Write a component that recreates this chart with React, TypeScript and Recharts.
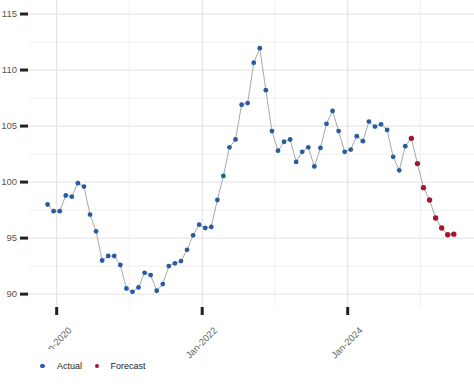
import { ComposedChart, Line, XAxis, YAxis, ReferenceLine } from 'recharts'

// monthly index, first actual observation is Nov-2019
const actualStartYear = 2019
const actualStartMonth = 11

const actualValues = [
  98.0, 97.4, 97.4, 98.8, 98.7, 99.9, 99.6, 97.1, 95.6, 93.0,
  93.4, 93.4, 92.6, 90.5, 90.2, 90.6, 91.9, 91.7, 90.3, 90.9,
  92.5, 92.75, 92.95, 93.95, 95.25, 96.2, 95.9, 96.0, 98.4, 100.55,
  103.1, 103.8, 106.9, 107.05, 110.65, 111.95, 108.2, 104.55, 102.8, 103.6,
  103.8, 101.8, 102.7, 103.1, 101.4, 103.05, 105.2, 106.35, 104.55, 102.7,
  102.9, 104.1, 103.65, 105.4, 104.95, 105.15, 104.65, 102.25, 101.05, 103.2,
]

const forecastValues = [103.9, 101.65, 99.5, 98.4, 96.8, 95.9, 95.3, 95.35]

const xTicks = [0, 24, 48] // months since Jan-2020
const xMinor = [12, 36, 60]
const yTicks = [90, 95, 100, 105, 110, 115]
const yMinor = [92.5, 97.5, 102.5, 107.5, 112.5]

const BLUE = '#285c9f'
const RED = '#a3172d'

const startOffset = (actualStartYear - 2020) * 12 + (actualStartMonth - 1)

const data = [
  ...actualValues.map((v, i) => ({ t: startOffset + i + 0.5, value: v, kind: 'actual' })),
  ...forecastValues.map((v, i) => ({
    t: startOffset + actualValues.length + i + 0.5,
    value: v,
    kind: 'forecast',
  })),
]

const font = '"Liberation Sans", Arial, sans-serif'

const XTick = ({ x, y, payload }: any) => {
  const ax = x + 15.5
  const ay = y + 14
  return (
    <text
      x={ax}
      y={ay}
      textAnchor="end"
      fontSize={9.5}
      fontFamily={font}
      fill="#666"
      transform={`rotate(-45 ${ax} ${ay})`}
    >
      {`Jan-${2020 + payload.value / 12}`}
    </text>
  )
}

const Dot = (props: any) => {
  const { cx, cy, payload, index } = props
  if (cx == null || cy == null) return <g key={index} />
  return (
    <circle
      key={index}
      cx={cx}
      cy={cy}
      r={payload.kind === 'forecast' ? 2.7 : 2.4}
      fill={payload.kind === 'forecast' ? RED : BLUE}
    />
  )
}

export default function App() {
  return (
    <div style={{ position: 'absolute', left: 0, top: 0, width: 474, height: 390, background: '#fff' }}>
      <ComposedChart width={474} height={390} data={data} margin={{ top: 0, right: 0, bottom: 0, left: 0 }}>
        {yMinor.map((v) => (
          <ReferenceLine key={`y${v}`} y={v} stroke="#f0f0f0" />
        ))}
        {yTicks.map((v) => (
          <ReferenceLine key={`ym${v}`} y={v} stroke="#e0e0e0" />
        ))}
        {xMinor.map((v) => (
          <ReferenceLine key={`x${v}`} x={v} stroke="#f0f0f0" ifOverflow="hidden" />
        ))}
        {xTicks.map((v) => (
          <ReferenceLine key={`xm${v}`} x={v} stroke="#e0e0e0" ifOverflow="hidden" />
        ))}
        <XAxis
          type="number"
          dataKey="t"
          domain={[-4.73, 68.83]}
          allowDataOverflow
          ticks={xTicks}
          height={83}
          axisLine={false}
          tickSize={8}
          tickLine={{ stroke: '#222', strokeWidth: 3 }}
          tick={<XTick />}
        />
        <YAxis
          type="number"
          domain={[88.85, 116.25]}
          allowDataOverflow
          ticks={yTicks}
          width={28}
          axisLine={false}
          tickSize={8}
          tickMargin={3}
          tickLine={{ stroke: '#222', strokeWidth: 3 }}
          tick={{ fontSize: 9.5, fill: '#555', fontFamily: font }}
        />
        <Line
          type="linear"
          dataKey="value"
          stroke="#a8a8a8"
          strokeWidth={1}
          dot={Dot}
          activeDot={false}
          isAnimationActive={false}
        />
      </ComposedChart>
      <div
        style={{
          position: 'absolute',
          left: 30,
          top: 349,
          width: 130,
          height: 34,
          background: '#fff',
          fontFamily: font,
          fontSize: 9,
          color: '#222',
        }}
      >
        <div style={{ position: 'absolute', left: 10, top: 14.5, width: 4.5, height: 4.5, borderRadius: '50%', background: BLUE }} />
        <div style={{ position: 'absolute', left: 27, top: 11, lineHeight: '12px' }}>Actual</div>
        <div style={{ position: 'absolute', left: 64.5, top: 14.5, width: 4.5, height: 4.5, borderRadius: '50%', background: RED }} />
        <div style={{ position: 'absolute', left: 80.5, top: 11, lineHeight: '12px' }}>Forecast</div>
      </div>
    </div>
  )
}
